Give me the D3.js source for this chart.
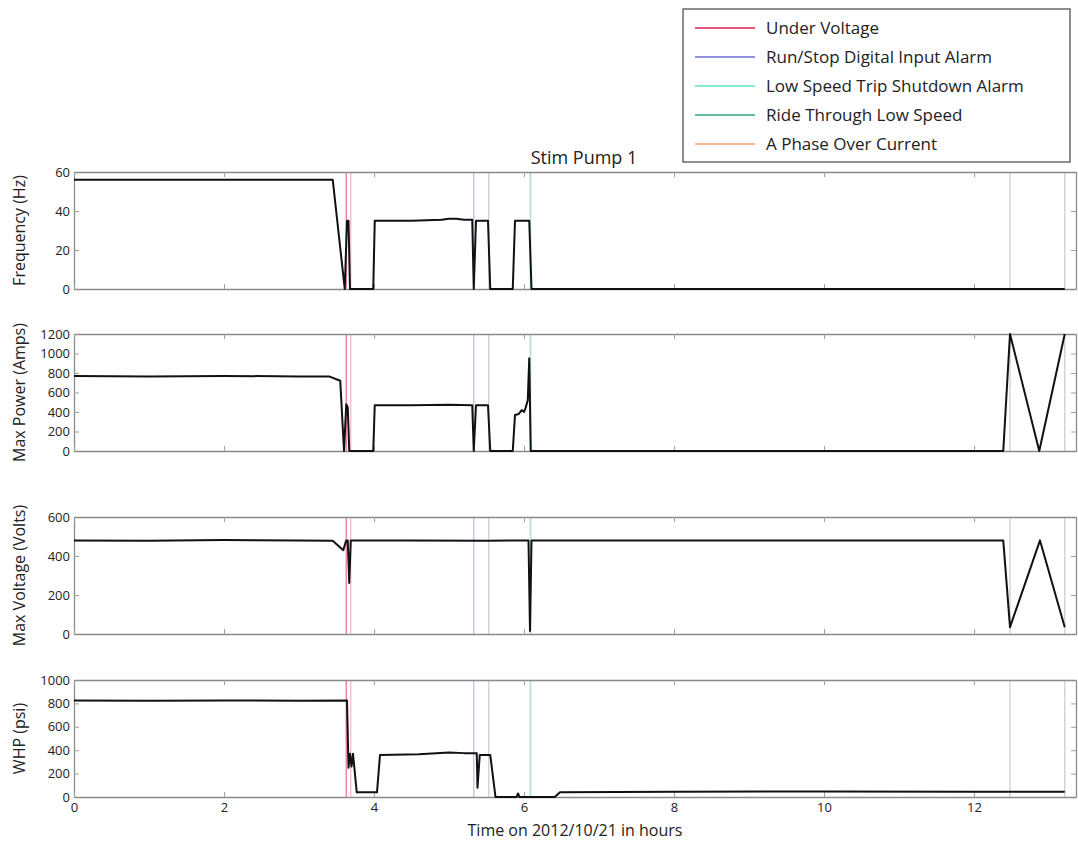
<!DOCTYPE html>
<html>
<head>
<meta charset="utf-8">
<script src="https://cdn.jsdelivr.net/npm/d3@7"></script>
<style>
  body { margin: 0; background: #fff; }
  text { font-family: "Open Sans", "Noto Sans", sans-serif; fill: #222; }
</style>
</head>
<body>
<svg id="chart" width="1078" height="842"></svg>
<script>
// ---- data ----
const freqTime = [0, 1, 2, 3, 3.45, 3.61, 3.64, 3.66, 3.68, 3.99, 4.01, 4.5, 4.9, 5.0, 5.1, 5.2, 5.31, 5.33, 5.36, 5.52, 5.55, 5.85, 5.88, 6.07, 6.1, 13.21];
const freqVals = [56, 56, 56, 56, 56, 0, 35, 35, 0, 0, 35, 35, 35.5, 36, 36, 35.5, 35.5, 0, 35, 35, 0, 0, 35, 35, 0, 0];

const powerTime = [0, 1, 2, 3, 3.4, 3.55, 3.6, 3.63, 3.65, 3.67, 3.99, 4.01, 4.5, 5.0, 5.31, 5.33, 5.36, 5.52, 5.55, 5.85, 5.88, 5.93, 5.97, 6.0, 6.02, 6.05, 6.07, 6.09, 12.39, 12.48, 12.87, 13.21];
const powerVals = [770, 765, 770, 765, 765, 720, 0, 480, 450, 0, 0, 470, 470, 475, 470, 0, 470, 470, 0, 0, 370, 380, 420, 400, 440, 520, 950, 0, 0, 1200, 0, 1200];

const voltTime = [0, 1, 2, 3, 3.45, 3.59, 3.63, 3.65, 3.67, 3.69, 4.5, 5.5, 6.06, 6.08, 6.1, 8, 10, 12.39, 12.48, 12.88, 13.21];
const voltVals = [480, 478, 482, 480, 478, 430, 480, 480, 262, 480, 480, 478, 480, 15, 480, 480, 480, 480, 35, 480, 35];

const whpTime = [0, 1, 2, 3, 3.64, 3.66, 3.68, 3.7, 3.72, 3.77, 4.04, 4.08, 4.6, 5.0, 5.2, 5.37, 5.38, 5.41, 5.55, 5.62, 5.9, 5.92, 5.94, 6.41, 6.48, 8, 10, 12, 13.21];
const whpVals = [825, 822, 825, 822, 825, 250, 370, 260, 370, 40, 40, 360, 365, 380, 375, 375, 80, 360, 360, 0, 0, 30, 0, 0, 40, 45, 48, 45, 45];

const panelLabels = ["Frequency (Hz)", "Max Power (Amps)", "Max Voltage (Volts)", "WHP (psi)"];
const panelMax = [60, 1200, 600, 1000];
const panelStep = [20, 200, 200, 200];

const legendNames = ["Under Voltage", "Run/Stop Digital Input Alarm", "Low Speed Trip Shutdown Alarm", "Ride Through Low Speed", "A Phase Over Current"];
const legendColors = ["#d8234f", "#6f6fd6", "#5fe6c8", "#2fa57a", "#f2a36c"];

// alarm events: time in hours, index into legendNames
const eventTimes = [3.63, 3.69, 5.33, 6.08, 6.09];
const eventTypes = [0, 0, 1, 2, 3];
// faint grey markers with no legend entry
const greyTimes = [5.53, 12.48, 13.21];

const xTicks = [0, 2, 4, 6, 8, 10, 12];

// ---- layout ----
const left = 74, right = 1076;
const panels = [[172, 289], [334, 451], [517, 634], [680, 797]];
const svg = d3.select("#chart");

const x = d3.scaleLinear().domain([0, 13.36]).range([left, right]);

const series = [
  [freqTime, freqVals],
  [powerTime, powerVals],
  [voltTime, voltVals],
  [whpTime, whpVals]
];
const eventOpacity = [0.6, 0.3, 0.45, 0.35, 0.3];

panels.forEach(function(p, i) {
  const y = d3.scaleLinear().domain([0, panelMax[i]]).range([p[1], p[0]]);
  const g = svg.append("g");

  // event lines behind data
  greyTimes.forEach(function(t) {
    g.append("line")
      .attr("x1", x(t)).attr("x2", x(t))
      .attr("y1", p[0]).attr("y2", p[1])
      .attr("stroke", "#cfcfcf").attr("stroke-width", 1.3);
  });
  eventTimes.forEach(function(t, k) {
    g.append("line")
      .attr("x1", x(t)).attr("x2", x(t))
      .attr("y1", p[0]).attr("y2", p[1])
      .attr("stroke", legendColors[eventTypes[k]])
      .attr("stroke-opacity", eventOpacity[k])
      .attr("stroke-width", 1.3);
  });

  const yTicks = d3.range(0, panelMax[i] + 1, panelStep[i]);

  // ticks inside the box on all four sides
  const axL = d3.axisLeft(y).tickValues(yTicks).tickFormat(d3.format("d")).tickSizeInner(-5).tickSizeOuter(0).tickPadding(4);
  const axR = d3.axisRight(y).tickValues(yTicks).tickSizeInner(-5).tickSizeOuter(0).tickFormat("");
  const axB = d3.axisBottom(x).tickValues(xTicks).tickFormat(d3.format("d")).tickSizeInner(-5).tickSizeOuter(0).tickPadding(6);
  const axT = d3.axisTop(x).tickValues(xTicks).tickSizeInner(-5).tickSizeOuter(0).tickFormat("");
  if (i < 3) axB.tickFormat("");

  const gl = g.append("g").attr("transform", `translate(${left},0)`).call(axL);
  const gr = g.append("g").attr("transform", `translate(${right},0)`).call(axR);
  const gb = g.append("g").attr("transform", `translate(0,${p[1]})`).call(axB);
  const gt = g.append("g").attr("transform", `translate(0,${p[0]})`).call(axT);
  [gl, gr, gb, gt].forEach(function(a) {
    a.select(".domain").attr("stroke", "#8a8a8a").attr("stroke-width", 1.3);
    a.selectAll(".tick line").attr("stroke", "#a0a0a0");
    a.selectAll(".tick text").style("font-size", "13px").attr("fill", "#333");
  });

  // data line
  const line = d3.line().x(function(d) { return x(d[0]); }).y(function(d) { return y(d[1]); });
  const pts = series[i][0].map(function(t, k) { return [t, series[i][1][k]]; });
  g.append("path").datum(pts)
    .attr("d", line)
    .attr("fill", "none")
    .attr("stroke", "#111")
    .attr("stroke-width", 2)
    .attr("stroke-linejoin", "round");

  // y label
  g.append("text")
    .attr("transform", `translate(25,${(p[0] + p[1]) / 2}) rotate(-90)`)
    .attr("text-anchor", "middle")
    .style("font-size", "16px")
    .text(panelLabels[i]);
});

// x label
svg.append("text")
  .attr("x", (left + right) / 2).attr("y", 836)
  .attr("text-anchor", "middle")
  .style("font-size", "16px")
  .text("Time on 2012/10/21 in hours");

// title
svg.append("text")
  .attr("x", 584).attr("y", 164)
  .attr("text-anchor", "middle")
  .style("font-size", "18px")
  .text("Stim Pump 1");

// legend
const leg = svg.append("g");
leg.append("rect")
  .attr("x", 683).attr("y", 9)
  .attr("width", 387).attr("height", 153)
  .attr("fill", "#fff")
  .attr("stroke", "#444").attr("stroke-width", 1.2);
legendNames.forEach(function(name, k) {
  const yy = 28 + k * 29;
  leg.append("line")
    .attr("x1", 695).attr("x2", 755)
    .attr("y1", yy).attr("y2", yy)
    .attr("stroke", legendColors[k]).attr("stroke-width", 1.5);
  leg.append("text")
    .attr("x", 766).attr("y", yy + 6)
    .style("font-size", "17px")
    .text(name);
});
</script>
</body>
</html>
